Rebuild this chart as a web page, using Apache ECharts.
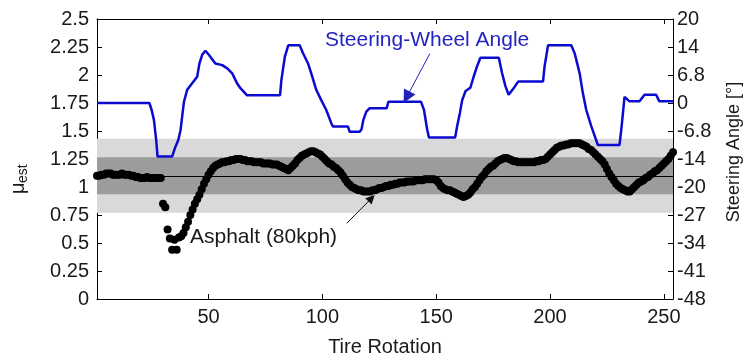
<!DOCTYPE html>
<html>
<head>
<meta charset="utf-8">
<script src="https://cdn.jsdelivr.net/npm/echarts@6/dist/echarts.min.js"></script>
<style>
  html, body { margin: 0; padding: 0; background: #ffffff; }
  #chart { width: 749px; height: 360px; }
</style>
</head>
<body>
<div id="chart"></div>
<script>
// Friction estimate (mu_est) per tire rotation, with the steering-wheel angle trace.
const FONT = "'Liberation Sans', Arial, sans-serif";

// x axis
const rotationMin = 1;
const rotationMax = 254;
const rotationTicks = [50, 100, 150, 200, 250];

// left axis: estimated friction coefficient
const muMin = 0;
const muMax = 2.5;
const muStep = 0.25;

// right axis: steering angle in degrees (1.75 on the left axis sits at 0 deg)
const steerMin = -47.6;
const steerMax = 20.4;
const steerStep = 6.8;
const steerTickLabels = ['-48', '-41', '-34', '-27', '-20', '-14', '-6.8', '0', '6.8', '14', '20'];

// nominal asphalt friction with +/-15 % and +/-30 % bands
const muNominal = 1.1;
const innerBand = [0.935, 1.265];
const outerBand = [0.77, 1.43];

// mu_est, one value per tire rotation starting at rotation 1
const muEst = [
  1.10, 1.10, 1.11, 1.11, 1.12, 1.12, 1.12, 1.11, 1.11, 1.11,
  1.11, 1.12, 1.11, 1.11, 1.11, 1.10, 1.10, 1.09, 1.09, 1.08,
  1.08, 1.08, 1.09, 1.08, 1.08, 1.08, 1.08, 1.08, 1.08,
  0.85, 0.82, 0.62, 0.54, 0.44, 0.53, 0.44, 0.55, 0.56, 0.59,
  0.64, 0.69, 0.75, 0.80, 0.85, 0.89, 0.93, 0.98, 1.03, 1.07,
  1.11, 1.14, 1.17, 1.19, 1.20, 1.21, 1.22, 1.22, 1.23, 1.23,
  1.24, 1.24, 1.25, 1.25, 1.25, 1.24, 1.24, 1.23, 1.23, 1.23,
  1.22, 1.22, 1.22, 1.22, 1.21, 1.21, 1.21, 1.21, 1.20, 1.20,
  1.20, 1.19, 1.18, 1.17, 1.16, 1.15, 1.17, 1.19, 1.21, 1.24,
  1.26, 1.28, 1.29, 1.30, 1.31, 1.32, 1.32, 1.31, 1.30, 1.29,
  1.27, 1.25, 1.23, 1.21, 1.20, 1.18, 1.17, 1.15, 1.13, 1.10,
  1.07, 1.04, 1.02, 1.00, 0.99, 0.98, 0.97, 0.97, 0.96, 0.96,
  0.96, 0.96, 0.97, 0.97, 0.98, 0.99, 0.99, 1.00, 1.01, 1.01,
  1.02, 1.02, 1.03, 1.03, 1.04, 1.04, 1.04, 1.05, 1.05, 1.05,
  1.05, 1.06, 1.06, 1.06, 1.06, 1.07, 1.07, 1.07, 1.07, 1.07,
  1.06, 1.04, 1.01, 0.99, 0.98, 0.97, 0.97, 0.96, 0.95, 0.94,
  0.93, 0.92, 0.91, 0.92, 0.93, 0.95, 0.98, 1.00, 1.03, 1.06,
  1.09, 1.11, 1.14, 1.16, 1.18, 1.19, 1.21, 1.23, 1.24, 1.25,
  1.26, 1.26, 1.25, 1.24, 1.23, 1.23, 1.22, 1.22, 1.22, 1.22,
  1.22, 1.22, 1.22, 1.22, 1.23, 1.23, 1.24, 1.24, 1.25, 1.27,
  1.29, 1.31, 1.33, 1.35, 1.36, 1.37, 1.37, 1.38, 1.38, 1.39,
  1.39, 1.39, 1.39, 1.39, 1.38, 1.37, 1.36, 1.34, 1.33, 1.31,
  1.29, 1.27, 1.25, 1.23, 1.20, 1.16, 1.12, 1.09, 1.06, 1.03,
  1.01, 0.99, 0.98, 0.97, 0.96, 0.96, 0.98, 1.00, 1.02, 1.04,
  1.05, 1.06, 1.08, 1.09, 1.11, 1.12, 1.14, 1.15, 1.17, 1.19,
  1.21, 1.23, 1.25, 1.28, 1.31
];

// steering-wheel angle trace: rotation and angle [deg]
const steerRotation = [
  1, 24, 25, 26, 27, 27.6, 34, 35.2, 36.7, 37.7, 38.4, 39.2, 40.6, 42.8, 45, 46, 47.2, 48.6, 50.1,
  53, 56, 58.2, 60.4, 62.5, 64, 66.8, 81.4, 82, 83.5, 85, 90, 91.5, 93.7, 95.1, 97.3, 99.5,
  101.7, 103.9, 104.6, 111.2, 112, 116.4, 117.2, 118, 119.3, 120.7, 128.2, 129, 143.3, 144.6,
  145.3, 146, 146.8, 158.3, 159.2, 160.4, 161.4, 162.9, 165, 166.5, 168, 169.4, 177.5, 178.9,
  180.4, 181.8, 184, 186, 196.9, 197.6, 199.1, 209.3, 210.8, 213, 214.4, 215.9, 218.1, 221,
  230.5, 231.3, 232, 232.7, 233.5, 234.9, 239.3, 241.5, 246.6, 248, 254
];
const steerAngle = [
  0, 0, -1.7, -4.1, -9, -13, -13, -11, -9, -6.6, -3.3, 0.3, 3.2, 4.8, 6.4, 9.6, 11.7, 12.7, 11.7,
  9.6, 9.2, 8.4, 7.2, 4.8, 3.6, 1.9, 1.9, 5.6, 11.2, 14, 14, 12.1, 9.6, 7.2, 3.2, 0.7,
  -1.7, -4.9, -5.7, -5.7, -7, -7, -6.4, -4.1, -2.1, -1.3, -1.3, 0.3, 0.3, -1.6,
  -4, -6.4, -8.4, -8.4, -5.6, -2.4, 0.7, 2.9, 3.7, 6.5, 9, 11, 11, 7.3,
  4.1, 2, 3.6, 5.2, 5.2, 8.9, 14, 14, 12.1, 7.2, 2.4, -1.7, -5.6, -10.2,
  -10.2, -6.4, -2.5, 1.5, 1.6, 0.4, 0.4, 2, 2, 0.4, 0.4
];

// annotation arrows, in data units: [start, end]
const steerArrow = [[147.2, 12.0], [137.0, 1.4]];
const muArrow = [[110.7, 0.676], [121.6, 0.90]];

const muPoints = muEst.map((v, i) => [rotationMin + i, v]);
const steerPoints = steerRotation.map((r, i) => [r, steerAngle[i]]);

const labelStyle = { color: '#1a1a1a', fontFamily: FONT, fontSize: 20 };
const axisLineStyle = { onZero: false, lineStyle: { color: '#000', width: 1 } };
const tickStyle = { inside: true, length: 5, lineStyle: { color: '#000', width: 1 } };

const chart = echarts.init(document.getElementById('chart'), null, { renderer: 'canvas' });

chart.setOption({
  animation: false,
  backgroundColor: '#ffffff',
  grid: { left: 97, right: 76, top: 19, bottom: 61, outerBoundsMode: 'none' },
  xAxis: [
    {
      type: 'value', position: 'bottom', min: rotationMin, max: rotationMax,
      name: 'Tire Rotation', nameLocation: 'middle', nameGap: 38,
      nameTextStyle: { color: '#1a1a1a', fontFamily: FONT, fontSize: 20 },
      axisLine: axisLineStyle,
      axisTick: Object.assign({ customValues: rotationTicks }, tickStyle),
      axisLabel: Object.assign({ customValues: rotationTicks, margin: 8 }, labelStyle),
      splitLine: { show: false }
    },
    {
      type: 'value', position: 'top', min: rotationMin, max: rotationMax,
      axisLine: axisLineStyle,
      axisTick: Object.assign({ customValues: rotationTicks }, tickStyle),
      axisLabel: { show: false },
      splitLine: { show: false }
    }
  ],
  yAxis: [
    {
      type: 'value', position: 'left', min: muMin, max: muMax, interval: muStep,
      axisLine: axisLineStyle,
      axisTick: tickStyle,
      axisLabel: Object.assign({ margin: 8 }, labelStyle),
      splitLine: { show: false }
    },
    {
      type: 'value', position: 'right', min: steerMin, max: steerMax, interval: steerStep,
      axisLine: axisLineStyle,
      axisTick: tickStyle,
      axisLabel: Object.assign({
        margin: 4,
        formatter: (v) => steerTickLabels[Math.round((v - steerMin) / steerStep)]
      }, labelStyle),
      splitLine: { show: false }
    }
  ],
  series: [
    {
      // tolerance bands around the nominal asphalt friction
      name: 'bands', type: 'line', xAxisIndex: 0, yAxisIndex: 0, data: [], z: 1,
      silent: true,
      markArea: {
        silent: true,
        data: [
          [{ yAxis: outerBand[0], itemStyle: { color: '#d9d9d9' } }, { yAxis: outerBand[1] }],
          [{ yAxis: innerBand[0], itemStyle: { color: '#9c9c9c' } }, { yAxis: innerBand[1] }]
        ]
      },
      markLine: {
        silent: true, symbol: ['none', 'none'], label: { show: false },
        lineStyle: { color: '#000', width: 1, type: 'solid' },
        data: [{ yAxis: muNominal }]
      }
    },
    {
      name: 'mu_est', type: 'scatter', xAxisIndex: 0, yAxisIndex: 0, z: 3,
      data: muPoints, symbol: 'circle', symbolSize: 8, clip: false,
      itemStyle: { color: '#000', opacity: 1 },
      markLine: {
        silent: true, symbol: ['none', 'triangle'], symbolSize: 9, label: { show: false },
        lineStyle: { color: '#111', width: 1, type: 'solid' },
        data: [[{ coord: muArrow[0] }, { coord: muArrow[1] }]]
      }
    },
    {
      name: 'steering', type: 'line', xAxisIndex: 0, yAxisIndex: 1, z: 4,
      data: steerPoints, showSymbol: false, symbol: 'none',
      lineStyle: { color: '#0a0ad0', width: 2.5 },
      markLine: {
        silent: true, symbol: ['none', 'triangle'], symbolSize: 13, label: { show: false },
        lineStyle: { color: '#2222b8', width: 1, type: 'solid' },
        data: [[{ coord: steerArrow[0] }, { coord: steerArrow[1] }]]
      }
    }
  ],
  graphic: [
    {
      type: 'text', x: 325, y: 40,
      style: { text: 'Steering-Wheel Angle', fill: '#2424c0', fontFamily: FONT, fontSize: 21,
               align: 'left', verticalAlign: 'middle' }
    },
    {
      type: 'text', x: 190, y: 237,
      style: { text: 'Asphalt (80kph)', fill: '#1a1a1a', fontFamily: FONT, fontSize: 21,
               align: 'left', verticalAlign: 'middle' }
    },
    {
      // left axis title: mu with subscript "est", reading bottom to top
      type: 'group', x: 18, y: 178, rotation: Math.PI / 2,
      children: [
        { type: 'text', x: -16, y: 0,
          style: { text: 'μ', fill: '#1a1a1a', fontFamily: FONT, fontSize: 20, align: 'left', verticalAlign: 'middle' } },
        { type: 'text', x: -5, y: 5,
          style: { text: 'est', fill: '#1a1a1a', fontFamily: FONT, fontSize: 14, align: 'left', verticalAlign: 'middle' } }
      ]
    },
    {
      type: 'text', x: 734, y: 152, rotation: Math.PI / 2,
      style: { text: 'Steering Angle [°]', fill: '#1a1a1a', fontFamily: FONT, fontSize: 18,
               align: 'center', verticalAlign: 'middle' }
    }
  ]
});
</script>
</body>
</html>
